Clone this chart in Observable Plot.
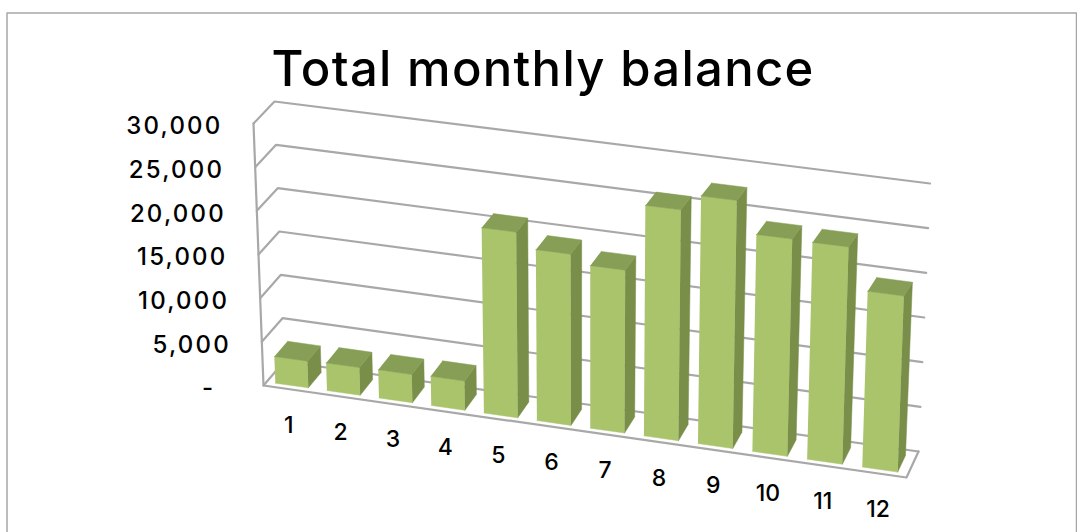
<!DOCTYPE html>
<html><head><meta charset="utf-8">
<script src="https://cdn.jsdelivr.net/npm/d3@7"></script>
<script src="https://cdn.jsdelivr.net/npm/@observablehq/plot@0.6"></script>
<style>html,body{margin:0;padding:0;background:#fff}svg{display:block}</style>
</head><body><div id="chart"></div>
<script>
const months = [1,2,3,4,5,6,7,8,9,10,11,12];
const balances = [3050,3150,3200,3300,20900,19200,18200,25700,27500,24000,23900,19300];
const ticks = [0,5000,10000,15000,20000,25000,30000];
const tickLabels = ["-\u00a0\u00a0","5,000","10,000","15,000","20,000","25,000","30,000"];
const title = "Total monthly balance";
const W = 1077, H = 532, vMax = 30000;

// oblique view of the chart's box: corners of the floor and of the ceiling
const view = {
  f0L:[263,385], ftL:[253,123], b0L:[283.6,361], btL:[274,101],
  f0R:[906,477], ftR:[915.5,202], b0R:[918,451], btR:[929.5,183]
};
const lerp = (a,b,t)=>[a[0]+(b[0]-a[0])*t, a[1]+(b[1]-a[1])*t];
const warp = t => t/(t+1.04*(1-t));
function project(slot, value, depth){
  const t = warp(slot/12), h = value/vMax;
  const L = lerp(lerp(view.f0L,view.ftL,h), lerp(view.b0L,view.btL,h), depth);
  const R = lerp(lerp(view.f0R,view.ftR,h), lerp(view.b0R,view.btR,h), depth);
  return lerp(L,R,t);
}
const pt = (slot,value,depth,extra={}) => { const [px,py]=project(slot,value,depth); return {px,py,...extra}; };

const u0=.17,u1=.81,d0=.15,d1=.79;
const faces = months.flatMap((m,i)=>{
  const v=balances[i], a=i+u0, b=i+u1;
  const f=(face,cs)=>cs.map(c=>pt(c[0],c[1],c[2],{face,id:m+face}));
  return [
    ...f("front",[[a,v,d0],[b,v,d0],[b,0,d0],[a,0,d0]]),
    ...f("side",[[b,0,d0],[b,0,d1],[b,v,d1],[b,v,d0]]),
    ...f("top",[[a,v,d0],[b,v,d0],[b,v,d1],[a,v,d1]])
  ];
});
const grid = ticks.flatMap(v=>[pt(0,v,0,{v}),pt(0,v,1,{v}),pt(12,v,1,{v})]);
const frontEdges = [[0,vMax,0],[0,0,0],[12,0,0],[12,0,1]].map(c=>pt(...c));
const frame = [{px:6.5,py:H},{px:6.5,py:12.5},{px:1076,py:12.5},{px:1076,py:H}];
const yLabels = ticks.map((v,i)=>pt(0,v,0,{label:tickLabels[i]}));
const xLabels = months.map((m,i)=>pt(i+.5,0,0,{label:String(m)}));

const font = "Inter, 'Open Sans', sans-serif";
const chart = Plot.plot({
  width:W, height:H, margin:0,
  x:{domain:[0,W],range:[0,W],axis:null},
  y:{domain:[0,H],range:[0,H],axis:null},
  color:{domain:["front","side","top"],range:["#AAC46C","#788E49","#869E55"]},
  style:{background:"#fff",fontFamily:font},
  marks:[
    Plot.line(frame,{x:"px",y:"py",stroke:"#a6a6a6",strokeWidth:1.5}),
    Plot.line(grid,{x:"px",y:"py",z:"v",stroke:"#a8a8a8",strokeWidth:2.2,strokeLinejoin:"miter"}),
    Plot.line(frontEdges,{x:"px",y:"py",stroke:"#a8a8a8",strokeWidth:2.2}),
    Plot.line(faces,{x:"px",y:"py",z:"id",fill:"face",stroke:"face",strokeWidth:.5}),
    Plot.text(yLabels,{x:"px",y:"py",text:"label",textAnchor:"end",dx:-31,dy:3,fontSize:24,fontWeight:500,fill:"#000",fontFamily:font}),
    Plot.text(xLabels,{x:"px",y:"py",text:"label",dx:-.5,dy:36,fontSize:23,fontWeight:500,fill:"#000",fontFamily:font}),
    Plot.text([title],{x:()=>542.5,y:()=>70,text:d=>d,fontSize:49,fontWeight:500,fill:"#000",fontFamily:font})
  ]
});
document.getElementById("chart").append(chart);
// widen the lettering towards the reference's broad typeface
d3.select(chart).selectAll("text").style("letter-spacing",function(){
  const s=this.textContent;
  return s===title?"1.3px":(tickLabels.includes(s)?"2.2px":null);
});
</script></body></html>
